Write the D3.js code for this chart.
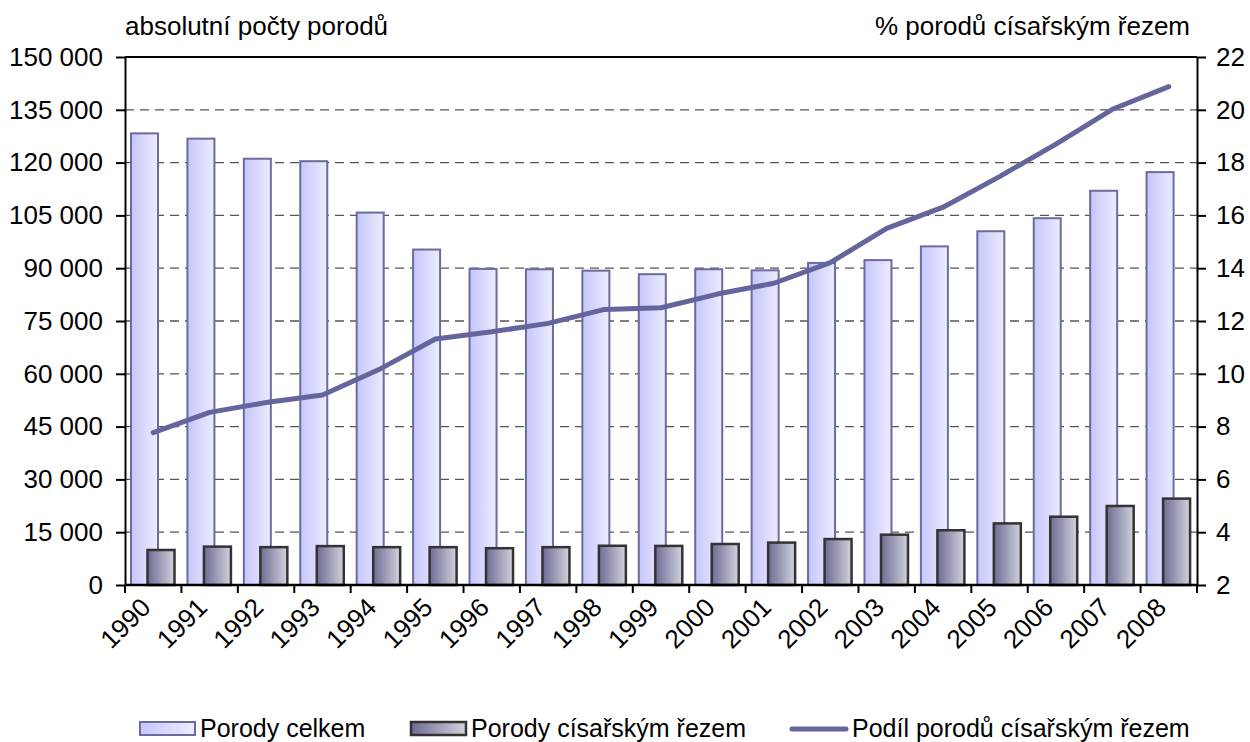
<!DOCTYPE html>
<html>
<head>
<meta charset="utf-8">
<script src="https://cdn.jsdelivr.net/npm/d3@7"></script>
<style>
  body { margin: 0; background: #fff; }
  text { font-family: "Liberation Sans", Arial, sans-serif; fill: #000; }
</style>
</head>
<body>
<svg width="1250" height="742"></svg>
<script>
const years = ['1990','1991','1992','1993','1994','1995','1996','1997','1998','1999',
               '2000','2001','2002','2003','2004','2005','2006','2007','2008']
const porodyCelkem = [128300, 126800, 121100, 120400, 105800, 95300, 89800, 89700, 89300, 88300,
                      89700, 89400, 91500, 92300, 96200, 100500, 104200, 112000, 117300]
const porodyCisar = [9950, 10900, 10750, 11050, 10750, 10750, 10450, 10750, 11150, 11100,
                     11650, 12050, 13050, 14300, 15550, 17500, 19400, 22450, 24550]
const podilCisar = [7.77, 8.54, 8.91, 9.2, 10.16, 11.32, 11.59, 11.91, 12.44, 12.5,
                    13.02, 13.43, 14.21, 15.51, 16.31, 17.47, 18.7, 20.02, 20.88]
const leftTicks = [0, 15000, 30000, 45000, 60000, 75000, 90000, 105000, 120000, 135000, 150000]
const rightTicks = [2, 4, 6, 8, 10, 12, 14, 16, 18, 20, 22]

const svg = d3.select("svg")
const pLeft = 125, pRight = 1197, pTop = 57, pBottom = 585

const x = d3.scaleBand().domain(years).range([pLeft, pRight]).paddingInner(0).paddingOuter(0)
const yL = d3.scaleLinear().domain([0, 150000]).range([pBottom, pTop])
const yR = d3.scaleLinear().domain([2, 22]).range([pBottom, pTop])

const fmt = d3.formatLocale({decimal: ",", thousands: " ", grouping: [3], currency: ["", " Kč"]}).format(",")

// gradients
const defs = svg.append("defs")
const g1 = defs.append("linearGradient").attr("id", "gLight")
g1.append("stop").attr("offset", "0%").attr("stop-color", "#c6c6fb")
g1.append("stop").attr("offset", "100%").attr("stop-color", "#ececff")
const g2 = defs.append("linearGradient").attr("id", "gDark")
g2.append("stop").attr("offset", "0%").attr("stop-color", "#6c6c94")
g2.append("stop").attr("offset", "100%").attr("stop-color", "#d2d2de")

// gridlines
svg.append("g")
  .selectAll("line")
  .data(leftTicks.filter(d => d > 0 && d < 150000))
  .join("line")
  .attr("x1", pLeft).attr("x2", pRight)
  .attr("y1", d => yL(d)).attr("y2", d => yL(d))
  .attr("stroke", "#555").attr("stroke-width", 1.3)
  .attr("stroke-dasharray", "9,6")

const bw = 27
// total births bars
svg.append("g")
  .selectAll("rect")
  .data(years)
  .join("rect")
  .attr("x", d => x(d) + 6)
  .attr("y", (d, i) => yL(porodyCelkem[i]))
  .attr("width", bw)
  .attr("height", (d, i) => pBottom - yL(porodyCelkem[i]))
  .attr("fill", "url(#gLight)")
  .attr("stroke", "#6b6b9d").attr("stroke-width", 2)

// caesarean bars
svg.append("g")
  .selectAll("rect")
  .data(years)
  .join("rect")
  .attr("x", d => x(d) + 22.5)
  .attr("y", (d, i) => yL(porodyCisar[i]))
  .attr("width", bw)
  .attr("height", (d, i) => pBottom - yL(porodyCisar[i]))
  .attr("fill", "url(#gDark)")
  .attr("stroke", "#333").attr("stroke-width", 2.5)

// share line
const line = d3.line()
  .x((d, i) => x(years[i]) + x.bandwidth() / 2)
  .y(d => yR(d))
svg.append("path")
  .datum(podilCisar)
  .attr("d", line)
  .attr("fill", "none")
  .attr("stroke", "#65659d").attr("stroke-width", 5)
  .attr("stroke-linecap", "round").attr("stroke-linejoin", "round")

// axes
svg.append("line").attr("x1", pLeft).attr("x2", pRight).attr("y1", pTop).attr("y2", pTop)
  .attr("stroke", "#000").attr("stroke-width", 2)

const axL = svg.append("g").attr("transform", `translate(${pLeft},0)`)
  .call(d3.axisLeft(yL).tickValues(leftTicks).tickFormat(fmt).tickSize(9).tickPadding(13).tickSizeOuter(0))
const axR = svg.append("g").attr("transform", `translate(${pRight},0)`)
  .call(d3.axisRight(yR).tickValues(rightTicks).tickSize(9).tickPadding(10).tickSizeOuter(0))
;[axL, axR].forEach(a => {
  a.select(".domain").attr("stroke", "#000").attr("stroke-width", 2)
  a.selectAll(".tick line").attr("stroke", "#000").attr("stroke-width", 2)
  a.selectAll(".tick text").attr("font-size", 26).attr("font-family", "Liberation Sans, Arial, sans-serif").attr("fill", "#000")
})

// bottom axis
svg.append("line").attr("x1", pLeft).attr("x2", pRight).attr("y1", pBottom).attr("y2", pBottom)
  .attr("stroke", "#000").attr("stroke-width", 2.5)
const bounds = years.map(d => x(d)).concat([pRight])
svg.append("g").selectAll("line")
  .data(bounds)
  .join("line")
  .attr("x1", d => d).attr("x2", d => d)
  .attr("y1", pBottom).attr("y2", pBottom + 8)
  .attr("stroke", "#000").attr("stroke-width", 2)

svg.append("g").selectAll("text")
  .data(years)
  .join("text")
  .attr("transform", d => `translate(${x(d) + x.bandwidth() / 2 - 1},${pBottom + 24}) rotate(-45)`)
  .attr("text-anchor", "end")
  .attr("font-size", 26)
  .text(d => d)

// axis titles
svg.append("text").attr("x", pLeft).attr("y", 35).attr("font-size", 26).text("absolutní počty porodů")
svg.append("text").attr("x", 1190).attr("y", 35).attr("font-size", 26).attr("text-anchor", "end")
  .text("% porodů císařským řezem")

// legend
const leg = svg.append("g")
leg.append("rect").attr("x", 140).attr("y", 722).attr("width", 55).attr("height", 13)
  .attr("fill", "url(#gLight)").attr("stroke", "#6b6b9d").attr("stroke-width", 2)
leg.append("text").attr("x", 200).attr("y", 737).attr("font-size", 25).text("Porody celkem")
leg.append("rect").attr("x", 411).attr("y", 722).attr("width", 55).attr("height", 13)
  .attr("fill", "url(#gDark)").attr("stroke", "#333").attr("stroke-width", 2.5)
leg.append("text").attr("x", 471).attr("y", 737).attr("font-size", 25).text("Porody císařským řezem")
leg.append("line").attr("x1", 792).attr("x2", 846).attr("y1", 729).attr("y2", 729)
  .attr("stroke", "#65659d").attr("stroke-width", 5).attr("stroke-linecap", "round")
leg.append("text").attr("x", 852).attr("y", 737).attr("font-size", 25).text("Podíl porodů císařským řezem")
</script>
</body>
</html>
